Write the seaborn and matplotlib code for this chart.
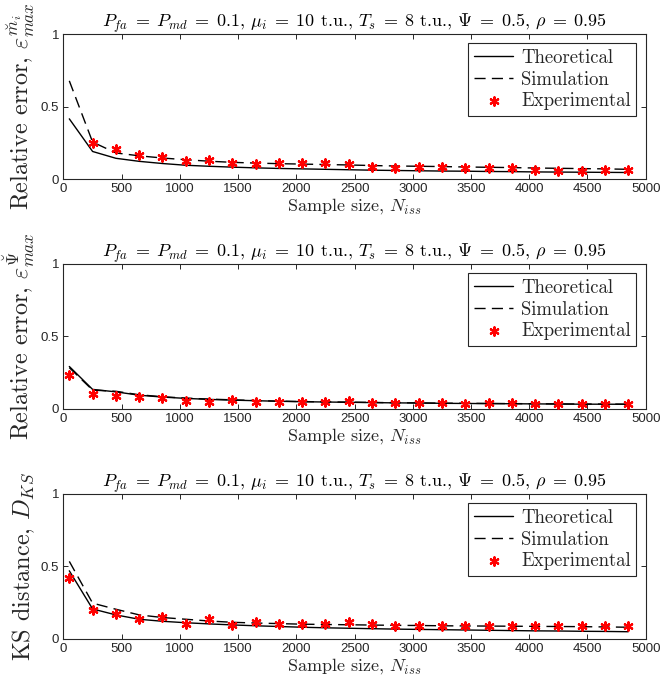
import numpy as np
import pandas as pd
import matplotlib
matplotlib.use("Agg")
import matplotlib.pyplot as plt
import seaborn as sns

# ---------------- data ----------------
N = [50, 250, 450, 650, 850, 1050, 1250, 1450, 1650, 1850, 2050, 2250, 2450,
     2650, 2850, 3050, 3250, 3450, 3650, 3850, 4050, 4250, 4450, 4650, 4850]

# panel 1: relative error of m_i
theo1 = [0.415, 0.19, 0.143, 0.122, 0.107, 0.095, 0.088, 0.082, 0.077, 0.073,
         0.070, 0.067, 0.064, 0.061, 0.059, 0.057, 0.055, 0.054, 0.052, 0.051,
         0.049, 0.048, 0.047, 0.046, 0.045]
sim1 = [0.677, 0.255, 0.180, 0.160, 0.145, 0.133, 0.123, 0.115, 0.110, 0.106,
        0.103, 0.100, 0.097, 0.093, 0.090, 0.088, 0.086, 0.083, 0.081, 0.079,
        0.076, 0.074, 0.072, 0.070, 0.067]
exp1 = [np.nan, 0.251, 0.205, 0.168, 0.154, 0.127, 0.129, 0.108, 0.106, 0.108,
        0.108, 0.108, 0.101, 0.083, 0.078, 0.085, 0.081, 0.074, 0.074, 0.074,
        0.062, 0.058, 0.058, 0.060, 0.062]

# panel 2: relative error of Psi
theo2 = [0.293, 0.135, 0.118, 0.095, 0.082, 0.073, 0.066, 0.061, 0.057, 0.053,
         0.050, 0.048, 0.046, 0.044, 0.042, 0.041, 0.039, 0.038, 0.037, 0.036,
         0.035, 0.034, 0.033, 0.033, 0.032]
sim2 = [0.285, 0.130, 0.122, 0.098, 0.084, 0.075, 0.068, 0.063, 0.058, 0.054,
        0.051, 0.049, 0.047, 0.045, 0.043, 0.042, 0.040, 0.039, 0.038, 0.037,
        0.036, 0.035, 0.034, 0.034, 0.033]
exp2 = [0.235, 0.104, 0.092, 0.085, 0.074, 0.058, 0.051, 0.065, 0.048, 0.048,
        0.048, 0.050, 0.053, 0.041, 0.039, 0.041, 0.039, 0.037, 0.044, 0.044,
        0.037, 0.037, 0.035, 0.035, 0.037]

# panel 3: KS distance
theo3 = [0.470, 0.207, 0.166, 0.136, 0.122, 0.112, 0.104, 0.097, 0.091, 0.086,
         0.081, 0.077, 0.074, 0.071, 0.068, 0.066, 0.064, 0.062, 0.060, 0.058,
         0.056, 0.055, 0.053, 0.052, 0.050]
sim3 = [0.535, 0.247, 0.205, 0.166, 0.148, 0.136, 0.124, 0.115, 0.110, 0.106,
        0.102, 0.100, 0.098, 0.096, 0.094, 0.093, 0.091, 0.090, 0.089, 0.088,
        0.087, 0.086, 0.085, 0.083, 0.081]
exp3 = [0.419, 0.200, 0.173, 0.138, 0.154, 0.104, 0.136, 0.099, 0.115, 0.104,
        0.106, 0.104, 0.118, 0.104, 0.092, 0.092, 0.090, 0.092, 0.090, 0.092,
        0.092, 0.088, 0.088, 0.088, 0.088]

xticks = [0, 500, 1000, 1500, 2000, 2500, 3000, 3500, 4000, 4500, 5000]
yticks = [0, 0.5, 1]
yticklabels = ["0", "0.5", "1"]

title = (r"$P_{fa}\;=\;P_{md}\;=\;0.1$, $\mu_i\;=\;10$ t.u., "
         r"$T_s\;=\;8$ t.u., $\Psi\;=\;0.5$, $\rho\;=\;0.95$")
ylabels = [r"Relative error, $\varepsilon^{\breve{m}_i}_{max}$",
           r"Relative error, $\varepsilon^{\breve{\Psi}}_{max}$",
           r"KS distance, $D_{KS}$"]
xlabel = r"Sample size, $N_{iss}$"
leg_labels = ["Theoretical", "Simulation", "Experimental"]

panels = [(theo1, sim1, exp1), (theo2, sim2, exp2), (theo3, sim3, exp3)]

# ---------------- style ----------------
sns.set_style("ticks")
plt.rcParams["font.family"] = ["Liberation Sans", "DejaVu Sans"]
plt.rcParams["mathtext.fontset"] = "cm"
plt.rcParams["axes.unicode_minus"] = False
axcol = "#262626"
serif = "cmr10"

fig = plt.figure(figsize=(6.62, 6.87), dpi=100)
bottoms = [0.7394, 0.4047, 0.0699]
left, width, height = 0.0959, 0.8795, 0.2111

for i, (theo, sim, exp) in enumerate(panels):
    ax = fig.add_axes([left, bottoms[i], width, height])
    df = pd.DataFrame({"N": N, "theo": theo, "sim": sim, "exp": exp})
    sns.lineplot(data=df, x="N", y="theo", color="black", linewidth=1.0,
                 label=leg_labels[0], ax=ax)
    sns.lineplot(data=df, x="N", y="sim", color="black", linewidth=1.0,
                 linestyle=(0, (8, 4.5)), label=leg_labels[1], ax=ax)
    sns.scatterplot(data=df.dropna(), x="N", y="exp", color="red",
                    marker=(6, 2, 0), s=36, linewidth=1.6,
                    label=leg_labels[2], ax=ax, zorder=3)
    ax.set_xlim(0, 5000)
    ax.set_ylim(0, 1)
    ax.set_xticks(xticks)
    ax.set_xticklabels([str(t) for t in xticks])
    ax.set_yticks(yticks)
    ax.set_yticklabels(yticklabels)
    ax.tick_params(direction="in", length=3.5, width=0.7, colors=axcol,
                   labelsize=9.5, top=True, right=True, pad=3)
    for sp in ax.spines.values():
        sp.set_visible(True)
        sp.set_color(axcol)
        sp.set_linewidth(0.8)
    ax.set_title(title, fontsize=13, pad=5, color="black", fontfamily=serif)
    ax.set_xlabel(xlabel, fontsize=13, labelpad=1, color=axcol,
                  fontfamily=serif)
    ax.set_ylabel(ylabels[i], fontsize=17.5, labelpad=3, color=axcol,
                  fontfamily=serif)
    leg = ax.legend(loc="upper right", frameon=True,
                    prop={"family": serif, "size": 13.5},
                    fancybox=False, framealpha=1, edgecolor=axcol,
                    handlelength=2.1, handletextpad=0.4, labelspacing=0.2,
                    borderpad=0.3, borderaxespad=0.5)
    leg.get_frame().set_linewidth(0.8)

fig.savefig("out.png", dpi=100)
